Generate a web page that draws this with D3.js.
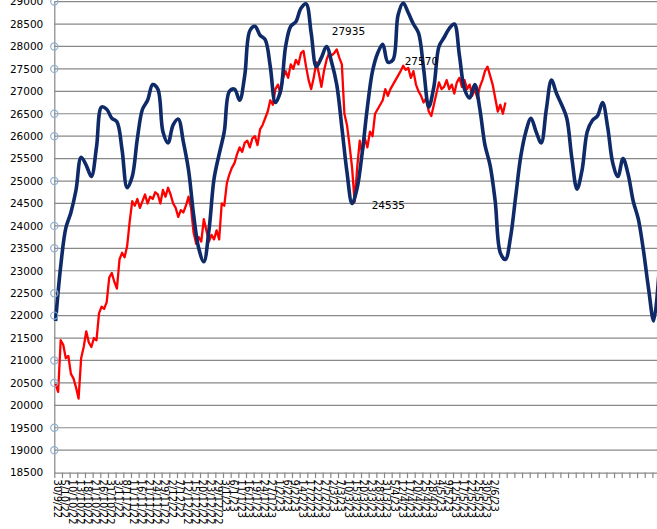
<!DOCTYPE html>
<html><head><meta charset="utf-8">
<script src="https://cdn.jsdelivr.net/npm/d3@7"></script>
<style>html,body{margin:0;padding:0;background:#fff;overflow:hidden}</style>
</head><body>
<svg id="chart" width="657" height="529"></svg>
<script>
// ---------- DATA ----------
const xLabels = ["30/9/22","5/10/22","10/10/22","13/10/22","18/10/22","21/10/22","26/10/22","31/10/22","3/11/22","8/11/22","11/11/22","16/11/22","21/11/22","24/11/22","29/11/22","2/12/22","7/12/22","12/12/22","15/12/22","20/12/22","23/12/22","29/12/22","3/1/23","6/1/23","11/1/23","16/1/23","19/1/23","24/1/23","27/1/23","1/2/23","6/2/23","9/2/23","14/2/23","17/2/23","22/2/23","27/2/23","2/3/23","7/3/23","10/3/23","15/3/23","20/3/23","23/3/23","28/3/23","31/3/23","5/4/23","12/4/23","17/4/23","20/4/23","25/4/23","28/4/23","4/5/23","9/5/23","12/5/23","17/5/23","22/5/23","25/5/23","30/5/23","2/6/23"];
const labelEvery = 3;          // one label / tick every 3 trading days
const categoryCount = 240;     // trading-day categories on the axis

// red series: daily closes, one per category starting at 0
const redValues = [
20480,20300,21450,21350,21050,21100,20700,20600,20400,20150,
21050,21300,21650,21400,21300,21500,21450,22050,22200,22150,
22300,22850,22950,22750,22600,23250,23400,23300,23550,24100,
24550,24450,24600,24400,24550,24700,24500,24650,24600,24750,
24700,24500,24800,24650,24850,24700,24500,24400,24200,24350,
24300,24450,24650,24400,23850,23600,23750,23650,24150,23900,
23650,23800,23700,23900,23700,24500,24450,24950,25150,25300,
25400,25600,25750,25650,25850,25900,25750,25950,26000,25800,
26150,26250,26400,26550,26800,26700,27050,27150,26950,27300,
27450,27300,27600,27500,27700,27600,27850,27900,27550,27250,
27050,27300,27650,27400,27100,27450,27700,27850,27800,27850,
27935,27750,27600,26500,26250,25800,25300,24535,25300,25900,
25600,25950,25750,26100,26000,26500,26600,26700,26800,27050,
26900,27050,27150,27250,27350,27450,27570,27480,27520,27300,
27450,27150,27000,26900,26750,26850,26550,26450,26700,26950,
27200,27050,27100,27250,27050,27150,26950,27200,27300,27100,
27250,27050,27150,26900,27050,26850,27100,27250,27450,27550,
27350,27150,26850,26550,26700,26500,26750
];

// blue series: smooth cycle curve, one value every 2 categories
const blueEvery = 2;
const blueValues = [
21880,23100,23950,24300,24800,25530,25350,25100,25750,26650,
26600,26400,26320,25700,24850,25100,25950,26600,26800,27150,
27050,26100,25850,26250,26380,25870,25250,24250,23500,23200,
23900,25050,25600,26100,27000,27050,26800,27350,28350,28450,
28250,28150,27550,26750,27000,28000,28450,28550,28850,28950,
28300,27550,27750,28000,27650,27150,26200,25200,24500,24850,
25650,26650,27450,27850,28050,27650,27700,28700,28970,28750,
28500,28300,27500,26650,27100,28000,28200,28400,28500,27800,
27050,26850,27150,26600,25800,25350,24550,23400,23250,23750,
24650,25550,26100,26400,26100,25850,26600,27250,26950,26700,
26400,25500,24820,25250,26100,26350,26450,26750,26200,25400,
25100,25500,25150,24550,24150,23450,22600,21880,22900
];

const yMin = 18500, yMax = 29000, yStep = 500;
const axisMarkers = [29000,28000,27500,26500,26000,25000,24000,23500,22500,22000,21000,20500,19500,19000];
const dataLabels = [
  {index: 110, text: "27935"},
  {index: 136, text: "27570"},
  {index: 117, text: "24535"}
];

// ---------- STYLE / LAYOUT ----------
const plot = {left: 54.3, top: 1.6, bottom: 472.6, catWidth: 2.556};
const labelOffsets = [[-5, -14], [1.5, -1], [17, 7]];
const font = "'DejaVu Sans', Verdana, sans-serif";
const gridColor = "#888888";

const svg = d3.select("#chart");
svg.append("rect").attr("width", 657).attr("height", 529).attr("fill", "#fff");

const x = d3.scaleLinear()
  .domain([-0.5, categoryCount - 0.5])
  .range([plot.left, plot.left + categoryCount * plot.catWidth]);
const y = d3.scaleLinear().domain([yMin, yMax]).range([plot.bottom, plot.top]);
const xRight = x(categoryCount - 0.5);

const yTicks = d3.range(yMin, yMax + 1, yStep);

// gridlines
svg.append("g").selectAll("line")
  .data(yTicks.filter(v => v !== yMin))
  .join("line")
  .attr("x1", plot.left).attr("x2", xRight)
  .attr("y1", d => y(d)).attr("y2", d => y(d))
  .attr("stroke", gridColor).attr("stroke-width", 1.2);

// y axis
const yAxis = d3.axisLeft(y).tickValues(yTicks).tickSize(0).tickPadding(11).tickFormat(d3.format("d"));
const gy = svg.append("g").attr("transform", `translate(${plot.left},0)`).call(yAxis);
gy.select(".domain").attr("stroke", gridColor).attr("stroke-width", 1.2);
gy.selectAll("text").attr("font-family", font).attr("font-size", "10.5px").attr("fill", "#000");

// x axis with ticks every 3 categories (at category boundaries)
const tickPos = d3.range(0, categoryCount + 1, labelEvery).map(t => t - 0.5);
const xAxis = d3.axisBottom(x).tickValues(tickPos).tickSize(5.5).tickFormat("").tickSizeOuter(0);
const gx = svg.append("g").attr("transform", `translate(0,${plot.bottom})`).call(xAxis);
gx.selectAll("line, path").attr("stroke", gridColor).attr("stroke-width", 1.2);

// x labels (rotated, reading downward)
svg.append("g").selectAll("text")
  .data(xLabels)
  .join("text")
  .attr("transform", (d, i) => `translate(${x(i * labelEvery) + 1.5},${plot.bottom + 7}) rotate(90)`)
  .attr("dominant-baseline", "central")
  .attr("text-anchor", "start")
  .attr("font-family", font).attr("font-size", "10px").attr("fill", "#000")
  .text(d => d);

// red line
const redLine = d3.line().x((d, i) => x(i)).y(d => y(d));
svg.append("path").datum(redValues)
  .attr("d", redLine).attr("fill", "none")
  .attr("stroke", "#ff0000").attr("stroke-width", 2.3).attr("stroke-linejoin", "round");

// blue smooth line
const blueLine = d3.line().x((d, i) => x(i * blueEvery)).y(d => y(d)).curve(d3.curveCatmullRom.alpha(0.5));
svg.append("path").datum(blueValues)
  .attr("d", blueLine).attr("fill", "none")
  .attr("stroke", "#0f2a68").attr("stroke-width", 3.6).attr("stroke-linejoin", "round");

// axis markers
svg.append("g").selectAll("circle")
  .data(axisMarkers)
  .join("circle")
  .attr("cx", plot.left).attr("cy", d => y(d)).attr("r", 3.6)
  .attr("fill", "none").attr("stroke", "#8db0d4").attr("stroke-width", 1.2);

// data labels
svg.append("g").selectAll("text")
  .data(dataLabels)
  .join("text")
  .attr("x", (d, i) => x(d.index) + labelOffsets[i][0])
  .attr("y", (d, i) => y(redValues[d.index]) + labelOffsets[i][1])
  .attr("font-family", font).attr("font-size", "10.5px").attr("fill", "#000")
  .text(d => d.text);
</script>
</body></html>
